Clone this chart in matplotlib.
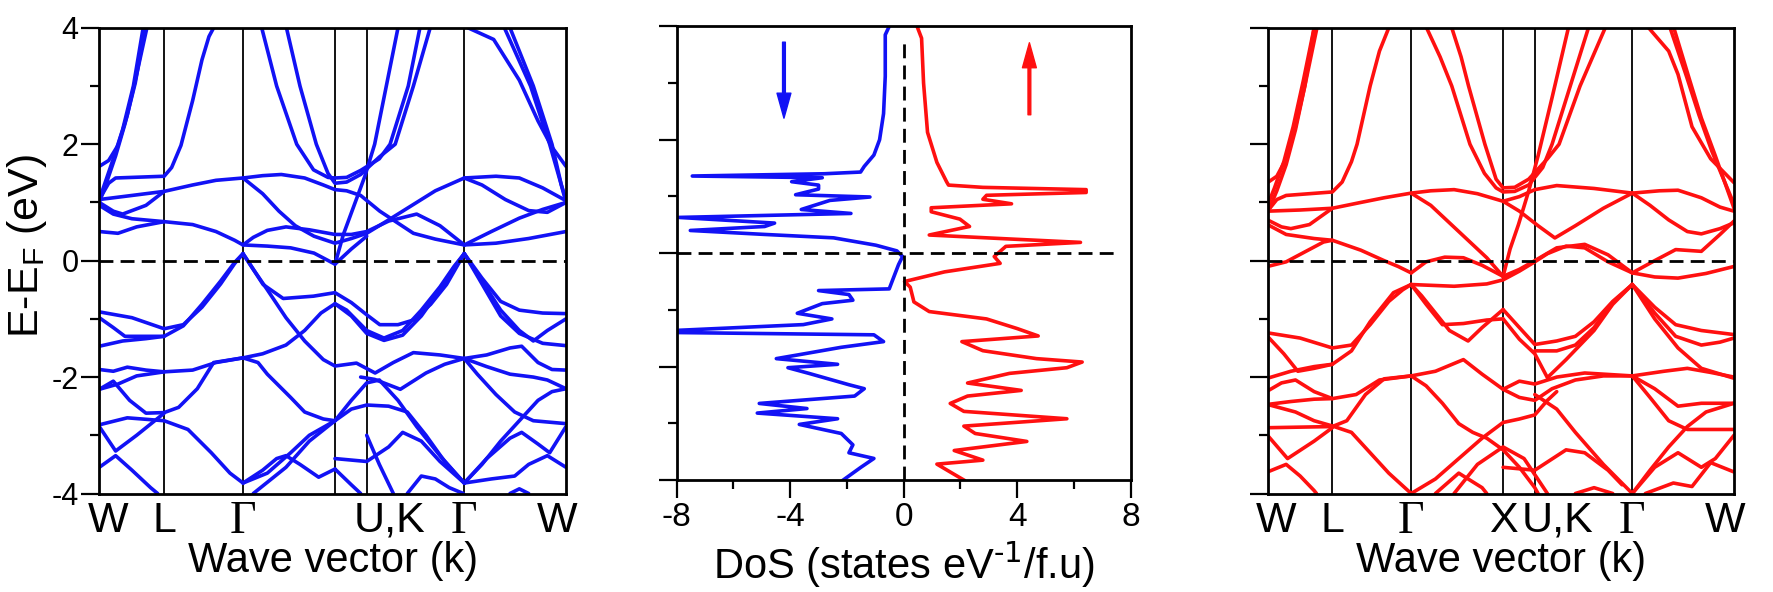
import matplotlib
matplotlib.use('Agg')
import matplotlib.pyplot as plt
from matplotlib.ticker import MultipleLocator

plt.rcParams['font.family'] = ['Liberation Sans', 'DejaVu Sans']
plt.rcParams['mathtext.default'] = 'regular'
plt.rcParams['axes.unicode_minus'] = False

# k-path, as fraction of the total path length
k_nodes = [0.0, 0.139, 0.308, 0.505, 0.573, 0.782, 1.0]
k_labels_dn = ['W', 'L', 'Γ', '', 'U,K', 'Γ', 'W']
k_labels_up = ['W', 'L', 'Γ', 'X', 'U,K', 'Γ', 'W']

# spin-down bands, (k, E-EF)
dn_conduction = [
    [(0, 1.62), (0.02, 1.72), (0.04, 1.98), (0.06, 2.5), (0.08, 3.2), (0.102, 4.0)],
    [(0, 1.05), (0.015, 1.4), (0.03, 1.75), (0.05, 2.25), (0.073, 3.0), (0.094, 4.0)],
    [(0, 1.0), (0.018, 1.4), (0.035, 1.8), (0.055, 2.35), (0.077, 3.05), (0.098, 4.0)],
    [(0, 1.05), (0.02, 1.33), (0.035, 1.42), (0.139, 1.45), (0.155, 1.6), (0.175, 1.98),
     (0.2, 2.75), (0.22, 3.45), (0.235, 3.85), (0.245, 4.0)],
    [(0, 1.05), (0.07, 1.12), (0.139, 1.19), (0.2, 1.3), (0.25, 1.38), (0.308, 1.42),
     (0.35, 1.46), (0.39, 1.48), (0.44, 1.42), (0.48, 1.3), (0.505, 1.22), (0.53, 1.2),
     (0.56, 1.12), (0.601, 0.85), (0.673, 0.47), (0.72, 0.37), (0.782, 0.27)],
    [(0.308, 1.42), (0.35, 1.15), (0.385, 0.85), (0.42, 0.6), (0.46, 0.42), (0.505, 0.30),
     (0.54, 0.38), (0.573, 0.47), (0.62, 0.7), (0.67, 0.95), (0.72, 1.2), (0.782, 1.42)],
    [(0.308, 0.27), (0.33, 0.4), (0.36, 0.52), (0.4, 0.58), (0.45, 0.53), (0.505, 0.45),
     (0.54, 0.45), (0.573, 0.5), (0.62, 0.68), (0.68, 0.8), (0.73, 0.6), (0.782, 0.27)],
    [(0.308, 0.27), (0.36, 0.25), (0.41, 0.22), (0.46, 0.13), (0.505, -0.06), (0.54, 0.2),
     (0.573, 0.42)],
    [(0.505, -0.06), (0.523, 0.45), (0.569, 1.45), (0.59, 2.0), (0.615, 3.0), (0.64, 4.0)],
    [(0.348, 4.0), (0.38, 3.0), (0.423, 2.0), (0.459, 1.56), (0.49, 1.43), (0.505, 1.42),
     (0.53, 1.43), (0.56, 1.55), (0.6, 1.75), (0.623, 2.0), (0.662, 3.0), (0.687, 4.0)],
    [(0.401, 4.0), (0.43, 3.0), (0.465, 2.0), (0.49, 1.5), (0.505, 1.33), (0.53, 1.35),
     (0.56, 1.48), (0.6, 1.78), (0.634, 2.0), (0.673, 3.0), (0.709, 4.0)],
    [(0.782, 1.42), (0.85, 1.45), (0.9, 1.42), (0.95, 1.25), (1.0, 1.03)],
    [(0.782, 1.42), (0.82, 1.3), (0.87, 1.05), (0.92, 0.86), (0.96, 0.83), (1.0, 1.0)],
    [(0.782, 0.27), (0.84, 0.5), (0.9, 0.73), (0.95, 0.88), (1.0, 1.0)],
    [(0.782, 0.27), (0.85, 0.3), (0.92, 0.38), (1.0, 0.5)],
    [(0.79, 4.0), (0.845, 3.8), (0.9, 3.1), (0.94, 2.4), (0.97, 1.95), (1.0, 1.62)],
    [(0.868, 4.0), (0.924, 3.0), (0.965, 2.0), (0.99, 1.3), (1.0, 1.05)],
    [(0.88, 4.0), (0.93, 3.0), (0.97, 2.0), (0.99, 1.3), (1.0, 1.0)],
    [(0, 0.5), (0.04, 0.47), (0.08, 0.58), (0.139, 0.67), (0.2, 0.62), (0.25, 0.5),
     (0.29, 0.35), (0.308, 0.27)],
    [(0, 0.95), (0.03, 0.8), (0.07, 0.72), (0.139, 0.67)],
    [(0, 1.0), (0.03, 0.85), (0.05, 0.8), (0.1, 0.95), (0.139, 1.19)],
]

dn_valence = [
    [(0, -0.88), (0.07, -0.98), (0.139, -1.17), (0.18, -1.1), (0.22, -0.8), (0.26, -0.4),
     (0.29, -0.05), (0.308, 0.12)],
    [(0, -0.98), (0.03, -1.15), (0.055, -1.3), (0.139, -1.3), (0.18, -1.12), (0.22, -0.75),
     (0.26, -0.35), (0.29, -0.03), (0.308, 0.12)],
    [(0, -1.47), (0.05, -1.38), (0.1, -1.34), (0.139, -1.3)],
    [(0.308, 0.12), (0.33, -0.15), (0.351, -0.41), (0.394, -0.65), (0.459, -0.61),
     (0.505, -0.55), (0.54, -0.72), (0.573, -0.93), (0.601, -1.1), (0.64, -1.1),
     (0.673, -1.02), (0.71, -0.75), (0.744, -0.41), (0.782, 0.12)],
    [(0.308, 0.12), (0.33, -0.15), (0.36, -0.5), (0.4, -0.98), (0.44, -1.38), (0.48, -1.7),
     (0.505, -1.81), (0.551, -1.76), (0.591, -1.93), (0.63, -1.75), (0.673, -1.58),
     (0.73, -1.62), (0.782, -1.68)],
    [(0.308, -1.67), (0.35, -1.6), (0.4, -1.45), (0.44, -1.2), (0.475, -0.9), (0.505, -0.74),
     (0.53, -0.85), (0.573, -1.2), (0.61, -1.33), (0.65, -1.2), (0.69, -0.85), (0.73, -0.45),
     (0.76, -0.1), (0.782, 0.12)],
    [(0.505, -0.74), (0.54, -0.95), (0.573, -1.25), (0.61, -1.37), (0.65, -1.28),
     (0.69, -0.95), (0.73, -0.5), (0.76, -0.12), (0.782, 0.12)],
    [(0.782, 0.12), (0.82, -0.3), (0.86, -0.7), (0.9, -0.85), (0.95, -0.9), (1.0, -0.91)],
    [(0.782, 0.12), (0.82, -0.35), (0.86, -0.85), (0.9, -1.2), (0.93, -1.38), (0.96, -1.2),
     (1.0, -1.0)],
    [(0.782, 0.12), (0.82, -0.4), (0.86, -0.95), (0.9, -1.25), (0.95, -1.42), (1.0, -1.46)],
    [(0.782, -1.68), (0.83, -1.62), (0.88, -1.5), (0.905, -1.47), (0.94, -1.75),
     (0.97, -1.87), (1.0, -1.88)],
    [(0.782, -1.68), (0.83, -1.82), (0.88, -1.95), (0.93, -2.0), (0.96, -2.05), (1.0, -2.2)],
    [(0.782, -1.68), (0.81, -1.95), (0.85, -2.3), (0.89, -2.6), (0.93, -2.75), (1.0, -2.8)],
    [(0.782, -3.82), (0.82, -3.5), (0.86, -3.1), (0.9, -2.75), (0.94, -2.4), (0.97, -2.25),
     (1.0, -2.2)],
    [(0.782, -3.82), (0.83, -3.4), (0.88, -3.05), (0.905, -2.95), (0.94, -3.15),
     (0.965, -3.3), (1.0, -2.85)],
    [(0.782, -3.82), (0.84, -3.75), (0.89, -3.7), (0.92, -3.5), (0.96, -3.35), (1.0, -3.55)],
    [(0.88, -4.0), (0.9, -3.92), (0.92, -4.0)],
    [(0, -1.87), (0.03, -1.9), (0.06, -1.83), (0.1, -1.88), (0.139, -1.91), (0.2, -1.88),
     (0.25, -1.75), (0.308, -1.67)],
    [(0, -2.21), (0.04, -2.12), (0.08, -1.98), (0.139, -1.91)],
    [(0, -2.21), (0.03, -2.07), (0.065, -2.4), (0.1, -2.62), (0.139, -2.61), (0.17, -2.52),
     (0.21, -2.2), (0.245, -1.75), (0.308, -1.67)],
    [(0, -2.82), (0.06, -2.7), (0.139, -2.75), (0.19, -2.9), (0.24, -3.3), (0.28, -3.65),
     (0.308, -3.82)],
    [(0, -2.85), (0.035, -3.27), (0.08, -3.0), (0.139, -2.62)],
    [(0, -3.55), (0.035, -3.35), (0.07, -3.6), (0.11, -3.9), (0.125, -4.0)],
    [(0.308, -1.67), (0.34, -1.75), (0.36, -1.95), (0.41, -2.35), (0.44, -2.6),
     (0.48, -2.72), (0.505, -2.75)],
    [(0.308, -3.82), (0.35, -3.6), (0.38, -3.4), (0.4, -3.35), (0.43, -3.5), (0.47, -3.72),
     (0.505, -3.58)],
    [(0.308, -3.82), (0.36, -3.65), (0.41, -3.3), (0.45, -3.0), (0.505, -2.75)],
    [(0.33, -4.0), (0.4, -3.55), (0.45, -3.1), (0.505, -2.75)],
    [(0.505, -2.75), (0.54, -2.55), (0.573, -2.48), (0.62, -2.5), (0.66, -2.6), (0.7, -3.0),
     (0.74, -3.45), (0.782, -3.82)],
    [(0.505, -2.75), (0.54, -2.4), (0.573, -2.1), (0.6, -2.05), (0.64, -2.4), (0.68, -2.85),
     (0.73, -3.35), (0.782, -3.82)],
    [(0.56, -2.0), (0.59, -2.04), (0.645, -2.21), (0.7, -1.93), (0.74, -1.78), (0.782, -1.68)],
    [(0.505, -3.4), (0.573, -3.45), (0.62, -3.2), (0.65, -2.95), (0.69, -3.1), (0.73, -3.45),
     (0.782, -3.82)],
    [(0.505, -3.58), (0.54, -3.85), (0.56, -4.0)],
    [(0.573, -3.0), (0.6, -3.5), (0.63, -4.0)],
    [(0.66, -4.0), (0.69, -3.7), (0.72, -3.75), (0.75, -3.9), (0.78, -4.0)],
]

# spin-up bands, right panel
up_conduction = [
    [(0, 1.34), (0.02, 1.45), (0.04, 1.75), (0.06, 2.3), (0.08, 3.0), (0.106, 4.0)],
    [(0, 0.95), (0.015, 1.25), (0.035, 1.7), (0.055, 2.3), (0.077, 3.1), (0.1, 4.0)],
    [(0, 0.82), (0.02, 1.2), (0.04, 1.65), (0.06, 2.25), (0.08, 3.0), (0.1, 4.0)],
    [(0, 0.85), (0.02, 1.05), (0.04, 1.12), (0.139, 1.18), (0.16, 1.35), (0.18, 1.7),
     (0.192, 2.0), (0.22, 3.0), (0.24, 3.6), (0.26, 4.0)],
    [(0, 0.85), (0.07, 0.87), (0.139, 0.9), (0.2, 1.0), (0.25, 1.08), (0.308, 1.16),
     (0.35, 1.2), (0.4, 1.22), (0.45, 1.15), (0.505, 1.02), (0.54, 1.1), (0.573, 1.22),
     (0.62, 1.29), (0.7, 1.24), (0.782, 1.16), (0.84, 1.2), (0.88, 1.21), (0.93, 1.08),
     (0.97, 0.92), (1.0, 0.85)],
    [(0.341, 4.0), (0.37, 3.5), (0.395, 3.0), (0.434, 2.0), (0.465, 1.5), (0.49, 1.25),
     (0.505, 1.18), (0.53, 1.19), (0.56, 1.3), (0.59, 1.6), (0.61, 2.0), (0.649, 3.0),
     (0.688, 4.0)],
    [(0.395, 4.0), (0.415, 3.5), (0.431, 3.0), (0.466, 2.0), (0.49, 1.4), (0.505, 1.25),
     (0.53, 1.26), (0.56, 1.4), (0.6, 1.75), (0.625, 2.0), (0.67, 3.0), (0.724, 4.0)],
    [(0.505, -0.27), (0.52, 0.2), (0.538, 0.62), (0.56, 1.2), (0.58, 1.8), (0.61, 2.8),
     (0.645, 4.0)],
    [(0.817, 4.0), (0.86, 3.6), (0.88, 3.2), (0.91, 2.3), (0.95, 1.75), (1.0, 1.34)],
    [(0.863, 4.0), (0.898, 3.17), (0.925, 2.5), (0.953, 1.87), (1.0, 0.97)],
    [(0.871, 4.0), (0.905, 3.1), (0.93, 2.45), (0.96, 1.8), (1.0, 0.9)],
    [(0.308, 1.16), (0.35, 0.95), (0.39, 0.65), (0.43, 0.35), (0.47, 0.05), (0.505, -0.27)],
    [(0.505, -0.27), (0.54, -0.15), (0.573, 0.0), (0.62, 0.22), (0.68, 0.28), (0.73, 0.1),
     (0.782, -0.21)],
    [(0.308, -0.21), (0.34, -0.02), (0.38, 0.06), (0.42, 0.05), (0.46, -0.08), (0.505, -0.27)],
    [(0.308, -0.41), (0.4, -0.44), (0.47, -0.4), (0.505, -0.33), (0.54, -0.18), (0.573, -0.02),
     (0.6, 0.12), (0.64, 0.25), (0.68, 0.22), (0.73, -0.02), (0.782, -0.21)],
    [(0.505, 1.02), (0.54, 0.85), (0.58, 0.6), (0.616, 0.39), (0.66, 0.6), (0.72, 0.9),
     (0.782, 1.16)],
    [(0.782, 1.16), (0.82, 0.95), (0.86, 0.7), (0.9, 0.5), (0.93, 0.46), (0.97, 0.55),
     (1.0, 0.65)],
    [(0.782, -0.21), (0.83, 0.0), (0.875, 0.19), (0.93, 0.16), (0.97, 0.45), (1.0, 0.68)],
    [(0.782, -0.21), (0.83, -0.28), (0.88, -0.3), (0.94, -0.22), (1.0, -0.1)],
    [(0, 0.7), (0.03, 0.58), (0.05, 0.55), (0.09, 0.62), (0.139, 0.9)],
    [(0, 0.62), (0.04, 0.45), (0.1, 0.38), (0.139, 0.35), (0.2, 0.18), (0.25, 0.0),
     (0.28, -0.1), (0.308, -0.21)],
    [(0, -0.1), (0.04, -0.02), (0.08, 0.15), (0.12, 0.32), (0.139, 0.35)],
]

up_valence = [
    [(0, -1.24), (0.07, -1.33), (0.139, -1.5), (0.18, -1.45), (0.22, -1.1), (0.26, -0.7),
     (0.29, -0.5), (0.308, -0.41)],
    [(0, -1.3), (0.035, -1.6), (0.065, -1.9), (0.1, -1.85), (0.139, -1.78), (0.18, -1.55),
     (0.22, -1.05), (0.27, -0.55), (0.308, -0.41)],
    [(0, -2.02), (0.05, -1.9), (0.1, -1.82), (0.139, -1.78)],
    [(0, -2.24), (0.03, -2.1), (0.06, -2.05), (0.1, -2.25), (0.139, -2.37), (0.19, -2.3),
     (0.24, -2.05), (0.308, -1.98)],
    [(0, -2.47), (0.05, -2.42), (0.1, -2.38), (0.139, -2.37)],
    [(0, -2.47), (0.06, -2.6), (0.1, -2.75), (0.139, -2.84), (0.18, -2.95), (0.22, -3.3),
     (0.26, -3.65), (0.308, -4.0)],
    [(0, -2.87), (0.07, -2.86), (0.139, -2.85), (0.17, -2.75), (0.21, -2.3), (0.25, -2.03),
     (0.308, -1.98)],
    [(0, -3.0), (0.043, -3.4), (0.1, -3.1), (0.139, -2.87)],
    [(0, -3.63), (0.04, -3.5), (0.07, -3.7), (0.1, -3.95), (0.105, -4.0)],
    [(0.308, -0.41), (0.33, -0.6), (0.36, -0.9), (0.39, -1.2), (0.43, -1.38), (0.46, -1.15),
     (0.505, -0.84)],
    [(0.308, -0.41), (0.34, -0.75), (0.375, -1.1), (0.42, -1.08), (0.47, -1.02), (0.505, -1.0)],
    [(0.505, -0.84), (0.54, -1.15), (0.573, -1.44), (0.62, -1.38), (0.66, -1.3), (0.7, -1.05),
     (0.74, -0.7), (0.782, -0.41)],
    [(0.505, -1.0), (0.54, -1.35), (0.573, -1.6), (0.6, -2.01), (0.64, -1.7), (0.7, -1.2),
     (0.74, -0.75), (0.782, -0.41)],
    [(0.573, -1.55), (0.62, -1.55), (0.66, -1.45), (0.7, -1.15), (0.74, -0.72), (0.782, -0.41)],
    [(0.782, -0.41), (0.83, -0.8), (0.875, -1.1), (0.93, -1.2), (1.0, -1.27)],
    [(0.782, -0.41), (0.83, -0.9), (0.875, -1.3), (0.93, -1.45), (0.97, -1.4), (1.0, -1.33)],
    [(0.782, -0.41), (0.83, -1.0), (0.88, -1.5), (0.93, -1.85), (1.0, -2.02)],
    [(0.308, -1.98), (0.36, -1.9), (0.42, -1.7), (0.46, -1.95), (0.505, -2.21), (0.54, -2.35),
     (0.573, -2.4), (0.61, -2.2), (0.66, -2.05), (0.72, -1.98), (0.782, -1.98)],
    [(0.308, -1.98), (0.34, -2.15), (0.375, -2.45), (0.41, -2.8), (0.44, -2.95),
     (0.47, -3.05), (0.505, -3.25), (0.54, -3.55), (0.573, -3.9), (0.58, -4.0)],
    [(0.505, -2.21), (0.54, -2.07), (0.573, -2.12), (0.62, -2.0), (0.68, -1.93), (0.782, -1.98)],
    [(0.782, -1.98), (0.85, -1.9), (0.9, -1.85), (0.95, -1.92), (1.0, -2.0)],
    [(0.782, -1.98), (0.83, -2.2), (0.88, -2.5), (0.93, -2.45), (1.0, -2.45)],
    [(0.782, -1.98), (0.82, -2.35), (0.86, -2.75), (0.9, -2.9), (1.0, -2.9)],
    [(0.782, -4.0), (0.82, -3.6), (0.86, -3.2), (0.9, -2.85), (0.94, -2.6), (1.0, -2.45)],
    [(0.782, -4.0), (0.83, -3.55), (0.88, -3.3), (0.93, -3.55), (0.96, -3.4), (1.0, -3.0)],
    [(0.81, -4.0), (0.87, -3.82), (0.91, -3.88), (0.95, -3.47), (1.0, -3.63)],
    [(0.308, -4.0), (0.36, -3.75), (0.41, -3.4), (0.46, -3.05), (0.505, -2.78), (0.54, -2.72),
     (0.573, -2.65), (0.6, -2.4), (0.62, -2.25)],
    [(0.573, -2.3), (0.62, -2.55), (0.66, -2.95), (0.72, -3.5), (0.782, -4.0)],
    [(0.505, -3.55), (0.573, -3.6), (0.64, -3.25), (0.68, -3.3), (0.73, -3.6), (0.76, -3.85)],
    [(0.4, -4.0), (0.45, -3.5), (0.505, -3.2), (0.55, -3.4), (0.6, -4.0)],
    [(0.36, -4.0), (0.41, -3.65), (0.46, -3.9), (0.47, -4.0)],
    [(0.66, -4.0), (0.7, -3.9), (0.74, -4.0)],
]

# density of states, middle panel
dos_e_dn = [4.0, 3.85, 3.12, 2.46, 2.0, 1.73, 1.53, 1.43, 1.40, 1.36, 1.33, 1.26, 1.2, 1.13,
            1.03, 0.99, 0.93, 0.77, 0.70, 0.63, 0.53, 0.47, 0.40, 0.33, 0.27, 0.14, 0.04,
            -0.06, -0.20, -0.46, -0.63, -0.66, -0.73, -0.83, -0.89, -1.06, -1.16, -1.26,
            -1.36, -1.40, -1.44, -1.56, -1.66, -1.79, -1.86, -1.96, -2.02, -2.12, -2.32,
            -2.39, -2.52, -2.65, -2.74, -2.82, -2.92, -3.02, -3.18, -3.38, -3.52, -3.62,
            -3.78, -4.0]
dos_dn = [-0.51, -0.65, -0.65, -0.71, -0.85, -1.05, -1.39, -1.52, -2.8, -7.45, -2.87, -3.95,
          -3.0, -3.0, -3.81, -1.19, -2.6, -3.61, -1.86, -7.92, -4.55, -4.9, -7.52, -4.9,
          -2.47, -0.98, -0.24, -0.04, -0.18, -0.38, -0.51, -3.0, -1.93, -1.79, -2.87, -3.75,
          -2.53, -3.54, -7.92, -8.0, -1.05, -0.71, -2.2, -3.68, -4.49, -2.33, -4.08, -3.34,
          -1.93, -1.39, -1.73, -5.09, -3.41, -5.16, -2.33, -3.68, -2.2, -1.79, -1.93, -1.05,
          -1.52, -2.13]
dos_e_up = [4.0, 3.79, 3.0, 2.13, 1.6, 1.26, 1.2, 1.16, 1.12, 1.07, 1.02, 0.95, 0.87, 0.8,
            0.73, 0.6, 0.47, 0.32, 0.25, 0.19, 0.12, -0.06, -0.18, -0.33, -0.5, -0.6, -0.86,
            -1.03, -1.16, -1.33, -1.46, -1.56, -1.72, -1.86, -1.92, -2.02, -2.12, -2.29,
            -2.42, -2.52, -2.65, -2.79, -2.92, -3.05, -3.18, -3.32, -3.48, -3.65, -3.72,
            -3.88, -4.0]
dos_up = [0.47, 0.63, 0.70, 0.84, 1.17, 1.51, 1.58, 2.79, 6.43, 6.43, 2.92, 2.79, 3.8, 0.97,
          0.97, 1.98, 2.32, 0.9, 3.73, 6.23, 3.6, 3.19, 3.4, 1.44, 0.03, 0.23, 0.36, 0.9,
          2.92, 4.0, 4.74, 2.05, 2.79, 4.68, 6.29, 5.75, 3.73, 2.25, 4.14, 2.25, 1.64, 2.12,
          5.75, 2.12, 2.52, 4.34, 1.78, 2.79, 1.17, 1.71, 2.12]

BLUE = '#1212f5'
RED = '#ff1010'
LW = 2.6
W, H = 1773, 592

fig = plt.figure(figsize=(W / 100, H / 100), dpi=100)
ax1 = fig.add_axes([99.3 / W, 1 - 493.5 / H, 466.7 / W, 465.7 / H])
ax2 = fig.add_axes([676.7 / W, 1 - 480.0 / H, 454.0 / W, 453.7 / H])
ax3 = fig.add_axes([1267.5 / W, 1 - 493.5 / H, 466.5 / W, 465.7 / H])


def style_axes(ax):
    for s in ax.spines.values():
        s.set_linewidth(2.0)
    ax.tick_params(which='major', direction='out', length=13, width=1.6, right=False, top=False)
    ax.tick_params(which='minor', direction='out', length=6.5, width=1.6, right=False, top=False)
    ax.set_ylim(-4, 4)
    ax.yaxis.set_major_locator(MultipleLocator(2))
    ax.yaxis.set_minor_locator(MultipleLocator(1))


def band_panel(ax, bands, color, labels):
    style_axes(ax)
    ax.set_xlim(0, 1)
    ax.set_xticks([])
    for k in k_nodes[1:-1]:
        ax.axvline(k, color='black', lw=1.3, zorder=1)
    for band in bands:
        ks = [p[0] for p in band]
        es = [p[1] for p in band]
        ax.plot(ks, es, color=color, lw=LW, solid_joinstyle='round',
                solid_capstyle='round', zorder=2)
    ax.axhline(0, color='black', lw=2.0, ls=(0, (5, 2.6)), zorder=3)
    for k, lab in zip(k_nodes, labels):
        if not lab:
            continue
        x, ha = k, 'center'
        if k == 0:
            x = 0.018
        elif k == 1:
            x = 0.981
        fam = ['Liberation Serif', 'DejaVu Serif'] if lab == 'Γ' else None
        size = 33 if lab == 'Γ' else 31
        if lab == 'U,K':
            x, ha = k - 0.028, 'left'
        ax.text(x, -0.016, lab, transform=ax.get_xaxis_transform(), ha=ha, va='top',
                fontsize=size, family=fam)
    ax.text(0.5, -0.168, 'Wave vector (k)', transform=ax.transAxes, ha='center',
            va='baseline', fontsize=30)


band_panel(ax1, dn_conduction + dn_valence, BLUE, k_labels_dn)
ax1.set_yticks([-4, -2, 0, 2, 4])
ax1.set_yticklabels(['-4', '-2', '0', '2', '4'], fontsize=22)
ax1.tick_params(axis='y', pad=2)

band_panel(ax3, up_conduction + up_valence, RED, k_labels_up)
ax3.set_yticklabels([])

# DoS panel
style_axes(ax2)
ax2.set_xlim(-8, 8)
ax2.xaxis.set_major_locator(MultipleLocator(4))
ax2.xaxis.set_minor_locator(MultipleLocator(2))
ax2.set_yticklabels([])
ax2.set_xticks([-8, -4, 0, 4, 8])
ax2.set_xticklabels(['-8', '-4', '0', '4', '8'], fontsize=24)
ax2.tick_params(axis='x', pad=3)
ax2.plot(dos_dn, dos_e_dn, color=BLUE, lw=LW, solid_joinstyle='round')
ax2.plot(dos_up, dos_e_up, color=RED, lw=LW, solid_joinstyle='round')
ax2.plot([-8, 7.43], [0, 0], color='black', lw=2.0, ls=(0, (5, 2.6)))
ax2.plot([0, 0], [-4, 3.72], color='black', lw=2.0, ls=(0, (5, 2.6)))
ax2.annotate('', xy=(-4.22, 2.38), xytext=(-4.22, 3.72),
             arrowprops=dict(color=BLUE, width=2.0, headwidth=10, headlength=18))
ax2.annotate('', xy=(4.43, 3.71), xytext=(4.43, 2.44),
             arrowprops=dict(color=RED, width=2.0, headwidth=10, headlength=18))
ax2.set_xlabel(r'DoS (states eV$^{\text{-1}}$/f.u)', fontsize=30, labelpad=4)

fig.text(27 / W, 1 - 246 / H, 'E-E$_F$ (eV)', rotation=90, ha='center', va='center',
         fontsize=31)

fig.savefig('out.png', dpi=100)
